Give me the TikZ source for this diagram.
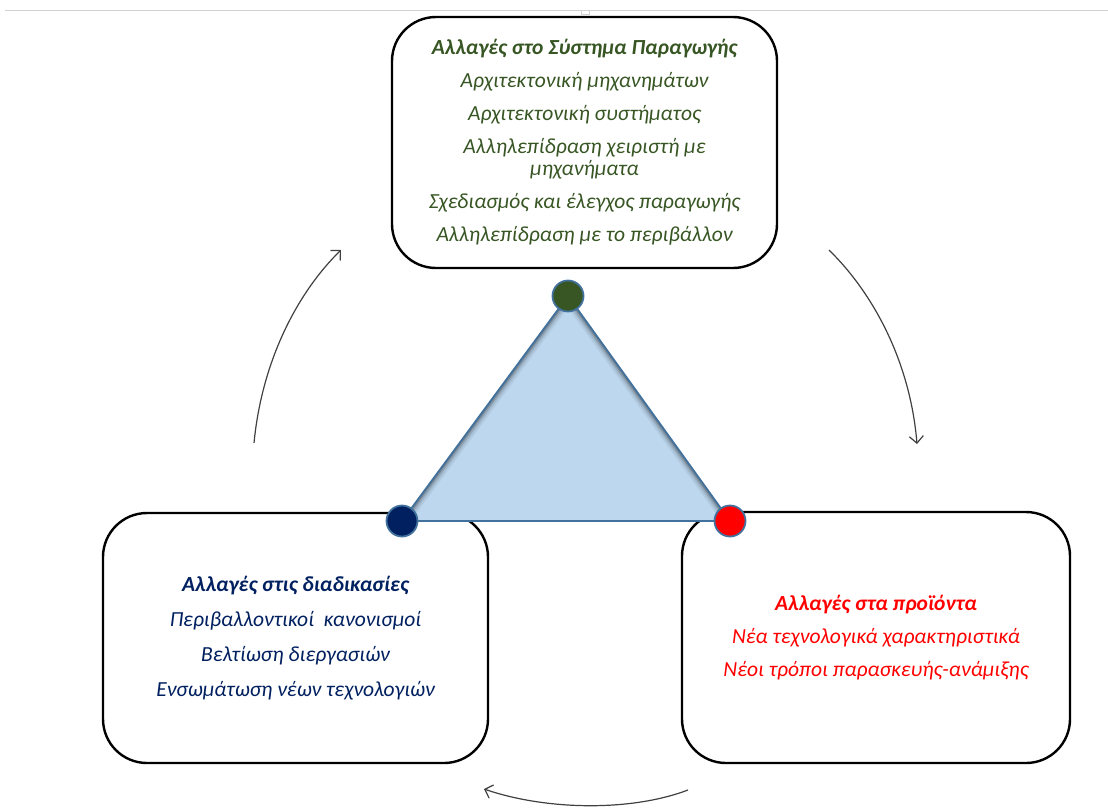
\documentclass[tikz,border=0pt]{standalone}
\usepackage{fontspec}
\setmainfont{Carlito}
\usetikzlibrary{arrows.meta}
\definecolor{prodgreen}{HTML}{375623}
\definecolor{procnavy}{HTML}{002060}
\definecolor{prodred}{HTML}{FF0000}
\definecolor{trifill}{HTML}{BDD7EE}
\definecolor{triedge}{HTML}{41719C}
\definecolor{cyclegray}{HTML}{404040}
\begin{document}
\begin{tikzpicture}[x=1pt,y=-1pt,
  panel/.style={draw=black,line width=2.4pt,rounded corners=44pt,fill=white,
    minimum width=#1,align=center,inner sep=0pt,
    font=\fontsize{21.5}{22}\selectfont\itshape},
  vertexdot/.style={circle,draw=triedge,line width=1.8pt,minimum size=31pt,inner sep=0pt},
  cycle/.style={draw=cyclegray,line width=1.2pt,-{Straight Barb[length=7pt,width=14pt]}}]
  \useasboundingbox (0,0) rectangle (1108,807);
  % thin rule along the top edge
  \draw[draw=black!18,line width=1pt] (5,10.5) -- (1108,10.5);
  \draw[draw=black!18,line width=0.8pt,fill=white] (581,10.5) rectangle (589,14);

  % three panels
  \node[panel=385pt,minimum height=251pt,text=prodgreen] (sys) at (584.5,142.5)
    {\textbf{Αλλαγές στο Σύστημα Παραγωγής}\\[11pt]
     Αρχιτεκτονική μηχανημάτων\\[11pt]
     Αρχιτεκτονική συστήματος\\[11pt]
     Αλληλεπίδραση χειριστή με\\ μηχανήματα\\[11pt]
     Σχεδιασμός και έλεγχος παραγωγής\\[11pt]
     Αλληλεπίδραση με το περιβάλλον};
  \node[panel=385pt,minimum height=250pt,text=procnavy] (proc) at (295.5,638)
    {\textbf{Αλλαγές στις διαδικασίες}\\[13pt]
     Περιβαλλοντικοί\ \ κανονισμοί\\[13pt]
     Βελτίωση διεργασιών\\[13pt]
     Ενσωμάτωση νέων τεχνολογιών};
  \node[panel=388pt,minimum height=251pt,text=prodred] (prod) at (876,637.5)
    {\textbf{Αλλαγές στα προϊόντα}\\[11pt]
     Νέα τεχνολογικά χαρακτηριστικά\\[11pt]
     Νέοι τρόποι παρασκευής-ανάμιξης};

  % triangle corners
  \coordinate (ta) at (568,296);
  \coordinate (tl) at (402,521);
  \coordinate (tr) at (730,521);
  \fill[trifill] (ta) -- (tl) -- (tr) -- cycle;
  \begin{scope}
    \clip (ta) -- (tl) -- (tr) -- cycle;
    \foreach \w/\o in {14/0.06,10/0.08,7/0.12,4/0.18}
      \draw[black,opacity=\o,line width=\w pt,line join=round] (tl) -- (ta) -- (tr);
  \end{scope}
  \draw[triedge,line width=1.8pt,line join=round] (ta) -- (tl) -- (tr) -- cycle;
  \node[vertexdot,fill=prodgreen] (dsys) at (ta) {};
  \node[vertexdot,fill=procnavy] (dproc) at (tl) {};
  \node[vertexdot,fill=prodred] (dprod) at (tr) {};

  % cycle arrows between the panels
  \coordinate (c1s) at (254,443);  \coordinate (c1e) at (341,250);
  \coordinate (c2s) at (829,250);  \coordinate (c2e) at (917,444);
  \coordinate (c3s) at (688,790);  \coordinate (c3e) at (484,789);
  \draw[cycle] (c1s) .. controls (262,360) and (298,292) .. (c1e);
  \draw[cycle] (c2s) .. controls (872,292) and (910,360) .. (c2e);
  \draw[cycle] (c3s) .. controls (630,812) and (545,810) .. (c3e);
\end{tikzpicture}
\end{document}
